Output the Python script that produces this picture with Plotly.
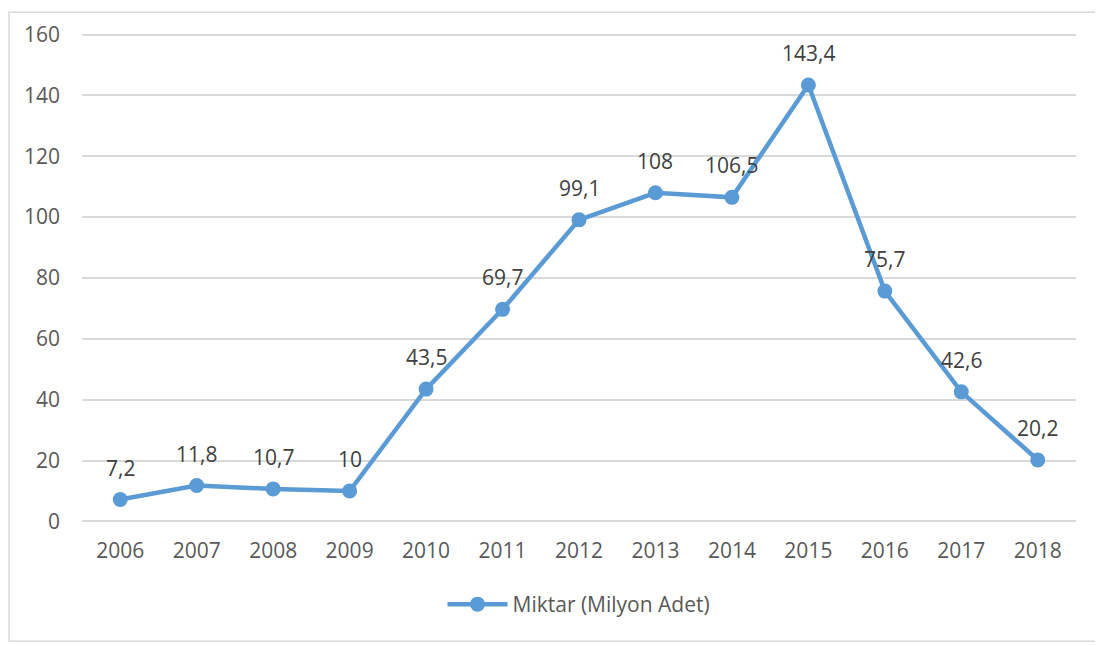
import plotly.graph_objects as go

years = ["2006", "2007", "2008", "2009", "2010", "2011", "2012", "2013", "2014", "2015", "2016", "2017", "2018"]
values = [7.2, 11.8, 10.7, 10, 43.5, 69.7, 99.1, 108, 106.5, 143.4, 75.7, 42.6, 20.2]
labels = ["7,2", "11,8", "10,7", "10", "43,5", "69,7", "99,1", "108", "106,5", "143,4", "75,7", "42,6", "20,2"]
y_ticks = [0, 20, 40, 60, 80, 100, 120, 140, 160]

color = "#5B9BD5"
font_family = "Open Sans, Liberation Sans, sans-serif"
tick_color = "#595959"
label_color = "#404040"
fs = 21

fig = go.Figure()
fig.add_trace(go.Scatter(
    x=years, y=values, mode="lines+markers",
    name="Miktar (Milyon Adet)",
    line=dict(color=color, width=4.5),
    marker=dict(color=color, size=15),
))

# category axis: annotations positioned by category index
for i, (y, t) in enumerate(zip(values, labels)):
    fig.add_annotation(x=i, y=y, text=t, showarrow=False, yshift=32,
                       yanchor="middle",
                       font=dict(size=fs, color=label_color, family=font_family))

W, H = 1095, 638
L, T, R, B = 74, 22, 1068, 515
pw, ph = R - L, B - T

fig.update_layout(
    width=W, height=H,
    margin=dict(l=L, r=W - R, t=T, b=H - B, pad=0),
    paper_bgcolor="white", plot_bgcolor="white",
    font=dict(family=font_family, size=fs, color=tick_color),
    showlegend=True,
    legend=dict(orientation="h", x=0.5, xanchor="center", y=-(597 - B) / ph, yanchor="middle",
                font=dict(size=fs, color=tick_color), itemwidth=60),
    xaxis=dict(type="category", range=[-0.5, 12.5], showgrid=False, showline=False,
               ticks="", zeroline=False, tickfont=dict(size=fs, color=tick_color),
               ticklabelstandoff=13),
    yaxis=dict(range=[-0.5, 160.5], tickvals=y_ticks, showgrid=True, gridcolor="#D9D9D9",
               gridwidth=1.5, zeroline=False, showline=False, ticks="",
               ticklabelstandoff=21, tickfont=dict(size=fs, color=tick_color)),
    shapes=[dict(type="rect", xref="paper", yref="paper",
                 x0=(1 - L) / pw, x1=(1088 - L) / pw,
                 y0=(B - 634) / ph, y1=(B - 1) / ph,
                 line=dict(color="#D9D9D9", width=1.5), layer="below")],
)

fig.write_html("out.html")
